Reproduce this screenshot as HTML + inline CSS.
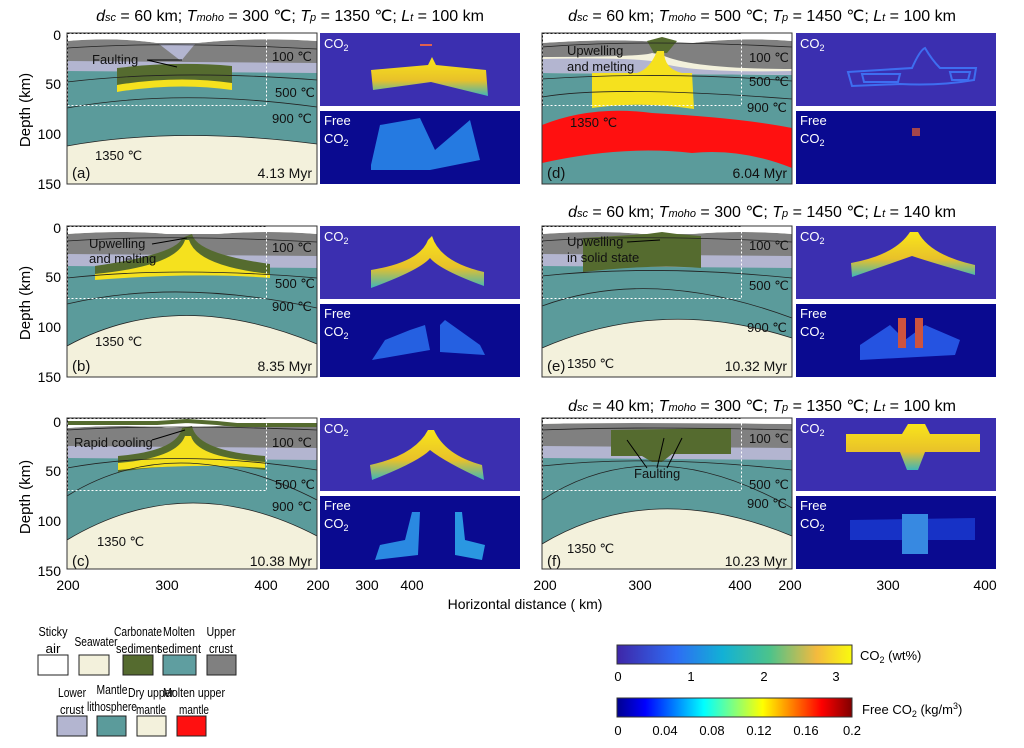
<!DOCTYPE html>
<html><head><meta charset="utf-8"><style>
body{margin:0;background:#fff;}
svg{display:block;font-family:"Liberation Sans",sans-serif;}
</style></head><body>
<svg width="1024" height="748" viewBox="0 0 1024 748" xmlns="http://www.w3.org/2000/svg">
<defs>
<linearGradient id="par" x1="0" x2="1"><stop offset="0" stop-color="#3e26a8"/><stop offset=".25" stop-color="#2e6cf4"/><stop offset=".45" stop-color="#12b1d5"/><stop offset=".65" stop-color="#4cc38b"/><stop offset=".85" stop-color="#f4ba3e"/><stop offset="1" stop-color="#f9fb0e"/></linearGradient>
<linearGradient id="jet" x1="0" x2="1"><stop offset="0" stop-color="#00008f"/><stop offset=".12" stop-color="#0000ff"/><stop offset=".37" stop-color="#00ffff"/><stop offset=".62" stop-color="#ffff00"/><stop offset=".87" stop-color="#ff0000"/><stop offset="1" stop-color="#800000"/></linearGradient>
<linearGradient id="yg" x1="0" y1="0" x2="0" y2="1"><stop offset="0" stop-color="#f9e51a"/><stop offset=".6" stop-color="#e8c12a"/><stop offset="1" stop-color="#3fb6b8"/></linearGradient>
</defs>
<g font-size="16" text-anchor="middle">
<text x="290" y="21"><tspan font-style="italic">d</tspan><tspan font-size="11" font-style="italic">sc</tspan> = 60 km; <tspan font-style="italic">T</tspan><tspan font-size="11" font-style="italic">moho</tspan> = 300 ℃; <tspan font-style="italic">T</tspan><tspan font-size="11" font-style="italic">p</tspan> = 1350 ℃; <tspan font-style="italic">L</tspan><tspan font-size="11" font-style="italic">t</tspan> = 100 km</text>
<text x="762" y="21"><tspan font-style="italic">d</tspan><tspan font-size="11" font-style="italic">sc</tspan> = 60 km; <tspan font-style="italic">T</tspan><tspan font-size="11" font-style="italic">moho</tspan> = 500 ℃; <tspan font-style="italic">T</tspan><tspan font-size="11" font-style="italic">p</tspan> = 1450 ℃; <tspan font-style="italic">L</tspan><tspan font-size="11" font-style="italic">t</tspan> = 100 km</text>
<text x="762" y="217"><tspan font-style="italic">d</tspan><tspan font-size="11" font-style="italic">sc</tspan> = 60 km; <tspan font-style="italic">T</tspan><tspan font-size="11" font-style="italic">moho</tspan> = 300 ℃; <tspan font-style="italic">T</tspan><tspan font-size="11" font-style="italic">p</tspan> = 1450 ℃; <tspan font-style="italic">L</tspan><tspan font-size="11" font-style="italic">t</tspan> = 140 km</text>
<text x="762" y="411"><tspan font-style="italic">d</tspan><tspan font-size="11" font-style="italic">sc</tspan> = 40 km; <tspan font-style="italic">T</tspan><tspan font-size="11" font-style="italic">moho</tspan> = 300 ℃; <tspan font-style="italic">T</tspan><tspan font-size="11" font-style="italic">p</tspan> = 1350 ℃; <tspan font-style="italic">L</tspan><tspan font-size="11" font-style="italic">t</tspan> = 100 km</text>
</g>
<g font-size="14" text-anchor="end">
<text x="61" y="40">0</text><text x="61" y="89">50</text><text x="61" y="139">100</text><text x="61" y="189">150</text>
<text x="61" y="233">0</text><text x="61" y="282">50</text><text x="61" y="332">100</text><text x="61" y="382">150</text>
<text x="61" y="427">0</text><text x="61" y="476">50</text><text x="61" y="526">100</text><text x="61" y="576">150</text>
</g>
<g font-size="15" text-anchor="middle">
<text transform="translate(30,110) rotate(-90)">Depth (km)</text>
<text transform="translate(30,303) rotate(-90)">Depth (km)</text>
<text transform="translate(30,497) rotate(-90)">Depth (km)</text>
</g>
<g font-size="14" text-anchor="middle">
<text x="68" y="590">200</text><text x="167" y="590">300</text><text x="266" y="590">400</text>
<text x="318" y="590">200</text><text x="367" y="590">300</text><text x="412" y="590">400</text>
<text x="545" y="590">200</text><text x="640" y="590">300</text><text x="740" y="590">400</text>
<text x="790" y="590">200</text><text x="888" y="590">300</text><text x="985" y="590">400</text>
<text x="525" y="609">Horizontal distance ( km)</text>
</g>

<!-- Panel a -->
<g transform="translate(67,33)">
<rect width="250" height="151" fill="#f3f1dc"/>
<path d="M0,38 L250,38 L250,111 Q110,93 0,113 Z" fill="#5b9b9b"/>
<path d="M0,26 L250,28 L250,40 L0,38 Z" fill="#b3b5d0"/>
<path d="M0,8 Q50,4 90,10 L130,10 Q190,4 250,8 L250,30 L0,28 Z" fill="#808080"/>
<path d="M92,11 L128,11 L114,28 Z" fill="#b3b5d0"/>
<path d="M0,0 H250 V8 Q190,4 130,10 L90,10 Q50,4 0,8 Z" fill="#fff"/>
<path d="M50,35 Q110,28 165,33 L165,52 Q110,44 50,55 Z" fill="#556b2f"/>
<path d="M50,52 Q110,42 165,50 L165,57 Q110,49 50,59 Z" fill="#f5e11e"/>
<g fill="none" stroke="#222" stroke-width="0.8"><path d="M0,15 Q100,8 250,16"/><path d="M0,49 Q110,36 250,47"/><path d="M0,75 Q110,55 250,74"/><path d="M0,113 Q110,93 250,111"/></g>
<rect x="0.5" y="0.5" width="199" height="72" fill="none" stroke="#fff" stroke-dasharray="2,2"/>
<path d="M0.5,72.5 V0.5 H199" fill="none" stroke="#000" stroke-dasharray="2,2"/>
<g font-size="13" fill="#111"><text x="205" y="28">100 ℃</text><text x="208" y="64">500 ℃</text><text x="205" y="90">900 ℃</text><text x="28" y="127">1350 ℃</text>
<text x="25" y="31">Faulting</text><text x="5" y="145" font-size="15">(a)</text><text x="245" y="145" text-anchor="end" font-size="14">4.13 Myr</text></g>
<path d="M80,27 L115,27 M80,27 L110,34" stroke="#000" fill="none"/>
<rect width="250" height="151" fill="none" stroke="#333"/>
</g>
<!-- Panel b -->
<g transform="translate(67,226)">
<rect width="250" height="151" fill="#f3f1dc"/>
<path d="M0,38 L250,40 L250,118 Q110,60 0,120 Z" fill="#5b9b9b"/>
<path d="M0,26 L250,28 L250,42 L0,40 Z" fill="#b3b5d0"/>
<path d="M0,8 Q60,4 100,8 L150,8 Q200,4 250,8 L250,30 L0,28 Z" fill="#808080"/>
<path d="M0,0 H250 V8 Q200,4 150,8 L100,8 Q60,4 0,8 Z" fill="#fff"/>
<path d="M28,40 Q110,28 115,12 L125,8 Q130,28 203,38 L203,52 Q130,42 28,54 Z" fill="#556b2f"/>
<path d="M28,48 Q110,40 118,14 L122,14 Q130,40 203,48 L203,52 Q130,46 28,54 Z" fill="#f5e11e"/>
<g fill="none" stroke="#222" stroke-width="0.8"><path d="M0,15 Q100,8 250,16"/><path d="M0,52 Q110,40 250,52"/><path d="M0,78 Q110,52 250,82"/><path d="M0,120 Q110,60 250,118"/></g>
<rect x="0.5" y="0.5" width="199" height="72" fill="none" stroke="#fff" stroke-dasharray="2,2"/>
<path d="M0.5,72.5 V0.5 H199" fill="none" stroke="#000" stroke-dasharray="2,2"/>
<g font-size="13" fill="#111"><text x="205" y="26">100 ℃</text><text x="208" y="62">500 ℃</text><text x="205" y="85">900 ℃</text><text x="28" y="120">1350 ℃</text>
<text x="22" y="22">Upwelling</text><text x="22" y="37">and melting</text><text x="5" y="145" font-size="15">(b)</text><text x="245" y="145" text-anchor="end" font-size="14">8.35 Myr</text></g>
<path d="M85,18 L120,12" stroke="#000"/>
<rect width="250" height="151" fill="none" stroke="#333"/>
</g>
<!-- Panel c -->
<g transform="translate(67,418)">
<rect width="250" height="151" fill="#f3f1dc"/>
<path d="M0,38 L250,40 L250,118 Q120,50 0,122 Z" fill="#5b9b9b"/>
<path d="M0,26 L250,28 L250,42 L0,40 Z" fill="#b3b5d0"/>
<path d="M0,10 Q60,6 100,10 L150,8 Q200,4 250,8 L250,30 L0,28 Z" fill="#808080"/>
<path d="M0,0 H250 V8 Q200,4 150,8 L100,10 Q60,6 0,10 Z" fill="#fff"/>
<path d="M0,5 L90,5 L120,3 L150,5 L170,7 L250,7" stroke="#556b2f" stroke-width="4" fill="none"/>
<path d="M51,38 Q110,33 115,10 L125,8 Q130,33 198,38 L198,52 Q130,42 51,54 Z" fill="#556b2f"/>
<path d="M51,45 Q110,40 118,18 L124,18 Q130,40 198,44 L198,50 Q130,45 51,52 Z" fill="#f5e11e"/>
<g fill="none" stroke="#222" stroke-width="0.8"><path d="M0,12 Q100,6 250,12"/><path d="M0,50 Q110,30 250,52"/><path d="M0,78 Q110,10 250,82"/><path d="M0,122 Q120,50 250,118"/></g>
<rect x="0.5" y="0.5" width="199" height="72" fill="none" stroke="#fff" stroke-dasharray="2,2"/>
<path d="M0.5,72.5 V0.5 H199" fill="none" stroke="#000" stroke-dasharray="2,2"/>
<g font-size="13" fill="#111"><text x="205" y="29">100 ℃</text><text x="208" y="71">500 ℃</text><text x="205" y="93">900 ℃</text><text x="30" y="128">1350 ℃</text>
<text x="7" y="29">Rapid cooling</text><text x="5" y="148" font-size="15">(c)</text><text x="245" y="148" text-anchor="end" font-size="14">10.38 Myr</text></g>
<path d="M85,22 L118,12" stroke="#000"/>
<rect width="250" height="151" fill="none" stroke="#333"/>
</g>
<!-- Panel d -->
<g transform="translate(542,33)">
<rect width="250" height="151" fill="#f3f1dc"/>
<path d="M0,40 L250,42 L250,151 L0,151 Z" fill="#5b9b9b"/>
<path d="M0,92 Q50,72 110,80 Q200,85 250,95 L250,135 Q200,115 150,120 Q80,112 0,130 Z" fill="#ff1010"/>
<path d="M0,26 Q100,24 120,30 Q150,40 250,38 L250,42 L0,40 Z" fill="#b3b5d0"/>
<path d="M0,10 Q60,6 100,8 L150,10 Q200,4 250,8 L250,36 Q150,36 120,22 L110,20 Q100,24 0,24 Z" fill="#808080"/>
<path d="M0,0 H250 V8 Q200,4 150,10 L100,8 Q60,6 0,10 Z" fill="#fff"/>
<path d="M105,8 L120,4 L135,8 L125,20 L112,20 Z" fill="#556b2f"/>
<path d="M50,40 L95,40 Q108,36 115,18 L122,18 Q122,36 140,40 L150,40 L152,76 Q100,68 50,75 Z" fill="#f5e11e"/>
<g fill="none" stroke="#222" stroke-width="0.8"><path d="M0,14 Q100,6 250,14"/><path d="M0,46 Q120,38 250,48"/><path d="M0,64 Q70,52 250,66"/></g>
<rect x="0.5" y="0.5" width="199" height="72" fill="none" stroke="#fff" stroke-dasharray="2,2"/>
<path d="M0.5,72.5 V0.5 H199" fill="none" stroke="#000" stroke-dasharray="2,2"/>
<g font-size="13" fill="#111"><text x="207" y="29">100 ℃</text><text x="207" y="53">500 ℃</text><text x="205" y="79">900 ℃</text><text x="28" y="94">1350 ℃</text>
<text x="25" y="22">Upwelling</text><text x="25" y="38">and melting</text><text x="5" y="145" font-size="15">(d)</text><text x="245" y="145" text-anchor="end" font-size="14">6.04 Myr</text></g>
<rect width="250" height="151" fill="none" stroke="#333"/>
</g>
<!-- Panel e -->
<g transform="translate(542,226)">
<rect width="250" height="151" fill="#f3f1dc"/>
<path d="M0,38 L250,40 L250,112 Q120,70 0,122 Z" fill="#5b9b9b"/>
<path d="M0,26 L250,28 L250,42 L0,40 Z" fill="#b3b5d0"/>
<path d="M0,8 Q60,4 100,8 L150,8 Q200,4 250,8 L250,30 L0,28 Z" fill="#808080"/>
<path d="M0,0 H250 V8 Q200,4 150,8 L100,8 Q60,4 0,8 Z" fill="#fff"/>
<path d="M41,12 L105,8 L120,6 L135,8 L159,10 L159,42 Q110,38 41,46 Z" fill="#556b2f"/>
<g fill="none" stroke="#222" stroke-width="0.8"><path d="M0,15 Q100,8 250,16"/><path d="M0,50 Q110,38 250,52"/><path d="M0,80 Q110,40 250,92"/><path d="M0,122 Q120,70 250,112"/></g>
<rect x="0.5" y="0.5" width="199" height="72" fill="none" stroke="#fff" stroke-dasharray="2,2"/>
<path d="M0.5,72.5 V0.5 H199" fill="none" stroke="#000" stroke-dasharray="2,2"/>
<g font-size="13" fill="#111"><text x="207" y="24">100 ℃</text><text x="207" y="64">500 ℃</text><text x="205" y="106">900 ℃</text><text x="25" y="142">1350 ℃</text>
<text x="25" y="20">Upwelling</text><text x="25" y="36">in solid state</text><text x="5" y="145" font-size="15">(e)</text><text x="245" y="145" text-anchor="end" font-size="14">10.32 Myr</text></g>
<path d="M85,16 L118,14" stroke="#000"/>
<rect width="250" height="151" fill="none" stroke="#333"/>
</g>
<!-- Panel f -->
<g transform="translate(542,418)">
<rect width="250" height="151" fill="#f3f1dc"/>
<path d="M0,38 L250,40 L250,118 Q110,60 0,126 Z" fill="#5b9b9b"/>
<path d="M0,26 L250,28 L250,42 L0,40 Z" fill="#b3b5d0"/>
<path d="M0,6 Q60,4 250,6 L250,30 L0,28 Z" fill="#808080"/>
<path d="M0,0 H250 V6 Q60,4 0,6 Z" fill="#fff"/>
<path d="M69,12 L189,10 L189,36 L130,36 L120,44 L110,44 L100,38 L69,38 Z" fill="#556b2f"/>
<g fill="none" stroke="#222" stroke-width="0.8"><path d="M0,12 Q100,8 250,12"/><path d="M0,48 Q110,36 250,52"/><path d="M0,82 Q110,10 250,90"/><path d="M0,126 Q110,60 250,118"/></g>
<rect x="0.5" y="0.5" width="199" height="72" fill="none" stroke="#fff" stroke-dasharray="2,2"/>
<path d="M0.5,72.5 V0.5 H199" fill="none" stroke="#000" stroke-dasharray="2,2"/>
<g font-size="13" fill="#111"><text x="207" y="25">100 ℃</text><text x="207" y="71">500 ℃</text><text x="205" y="90">900 ℃</text><text x="25" y="135">1350 ℃</text>
<text x="92" y="60">Faulting</text><text x="5" y="148" font-size="15">(f)</text><text x="245" y="148" text-anchor="end" font-size="14">10.23 Myr</text></g>
<path d="M105,50 L85,22 M115,50 L122,20 M125,50 L140,20" stroke="#000" fill="none"/>
<rect width="250" height="151" fill="none" stroke="#333"/>
</g>

<g fill="#3b2fb0">
<rect x="320" y="33" width="200" height="73"/><rect x="320" y="226" width="200" height="73"/><rect x="320" y="418" width="200" height="73"/>
<rect x="796" y="33" width="200" height="73"/><rect x="796" y="226" width="200" height="73"/><rect x="796" y="418" width="200" height="73"/>
</g>
<g fill="#0a0a90">
<rect x="320" y="111" width="200" height="73"/><rect x="320" y="304" width="200" height="73"/><rect x="320" y="496" width="200" height="73"/>
<rect x="796" y="111" width="200" height="73"/><rect x="796" y="304" width="200" height="73"/><rect x="796" y="496" width="200" height="73"/>
</g>
<path d="M371,70 L428,65 L432,57 L436,65 L486,70 L488,96 L431,82 L373,90 Z" fill="url(#yg)"/>
<rect x="420" y="44" width="12" height="2" fill="#e06050"/>
<path d="M371,270 Q420,262 428,240 L432,236 Q440,262 484,272 L484,286 Q440,270 430,258 Q420,270 371,288 Z" fill="url(#yg)"/>
<path d="M370,465 Q415,455 428,430 L434,430 Q445,455 482,465 L484,480 Q445,462 430,450 Q418,462 372,480 Z" fill="url(#yg)"/>
<g fill="none" stroke="#3e6ef0" stroke-width="2">
<path d="M848,72 L912,68 Q920,50 925,48 Q932,60 940,68 L976,68 L974,80 Q940,86 900,84 L852,86 Z"/>
<path d="M862,74 L900,74 L898,82 L864,82 Z M950,72 L970,72 L968,80 L952,80 Z"/>
</g>
<path d="M851,263 Q895,255 910,232 L918,232 Q930,255 975,265 L975,275 Q930,262 912,256 Q895,262 852,277 Z" fill="url(#yg)"/>
<path d="M846,434 L902,434 L908,424 L925,424 L930,434 L980,434 L980,452 L925,452 L918,470 L907,470 L900,452 L846,452 Z" fill="url(#yg)"/>
<g opacity="0.85">
<path d="M371,165 L380,125 L420,118 L435,150 L470,120 L480,160 L430,170 L371,170 Z" fill="#2a8ef0"/>
<path d="M385,340 L410,330 L425,325 L430,350 L372,360 Z" fill="#2a70f0"/>
<path d="M440,325 L445,320 L480,345 L485,355 L440,352 Z" fill="#2a70f0"/>
<path d="M380,545 L405,540 L412,512 L420,512 L418,555 L375,560 Z" fill="#30a0f0"/>
<path d="M455,512 L462,512 L465,540 L485,545 L482,560 L455,555 Z" fill="#30b0f0"/>
<path d="M860,345 L890,325 L905,340 L925,325 L960,340 L955,355 L860,360 Z" fill="#2a60f0"/>
<rect x="898" y="318" width="8" height="30" fill="#f06030"/><rect x="915" y="318" width="8" height="30" fill="#f06030"/>
<path d="M850,520 L975,518 L975,540 L850,540 Z" fill="#1a3ad0"/>
<rect x="902" y="514" width="26" height="40" fill="#40a0f0"/>
<rect x="912" y="128" width="8" height="8" fill="#c05040"/>
</g>
<g fill="#fff" font-size="13">
<text x="324" y="48">CO<tspan font-size="9" dy="3">2</tspan></text><text x="324" y="241">CO<tspan font-size="9" dy="3">2</tspan></text><text x="324" y="433">CO<tspan font-size="9" dy="3">2</tspan></text>
<text x="800" y="48">CO<tspan font-size="9" dy="3">2</tspan></text><text x="800" y="241">CO<tspan font-size="9" dy="3">2</tspan></text><text x="800" y="433">CO<tspan font-size="9" dy="3">2</tspan></text>
<text x="324" y="125">Free</text><text x="324" y="143">CO<tspan font-size="9" dy="3">2</tspan></text>
<text x="324" y="318">Free</text><text x="324" y="336">CO<tspan font-size="9" dy="3">2</tspan></text>
<text x="324" y="510">Free</text><text x="324" y="528">CO<tspan font-size="9" dy="3">2</tspan></text>
<text x="800" y="125">Free</text><text x="800" y="143">CO<tspan font-size="9" dy="3">2</tspan></text>
<text x="800" y="318">Free</text><text x="800" y="336">CO<tspan font-size="9" dy="3">2</tspan></text>
<text x="800" y="510">Free</text><text x="800" y="528">CO<tspan font-size="9" dy="3">2</tspan></text>
</g>

<g stroke="#222" stroke-width="1">
<rect x="38" y="655" width="30" height="20" fill="#fff"/>
<rect x="79" y="655" width="30" height="20" fill="#f3f1dc"/>
<rect x="123" y="655" width="30" height="20" fill="#556b2f"/>
<rect x="163" y="655" width="33" height="20" fill="#5f9ea0"/>
<rect x="207" y="655" width="29" height="20" fill="#808080"/>
<rect x="57" y="716" width="30" height="20" fill="#b3b5d0"/>
<rect x="97" y="716" width="29" height="20" fill="#5b9b9b"/>
<rect x="137" y="716" width="29" height="20" fill="#f3f1dc"/>
<rect x="177" y="716" width="29" height="20" fill="#ff1010"/>
</g>
<g font-size="13" text-anchor="middle" lengthAdjust="spacingAndGlyphs">
<text x="53" y="636" textLength="29" lengthAdjust="spacingAndGlyphs">Sticky</text><text x="53" y="653" textLength="15" lengthAdjust="spacingAndGlyphs">air</text>
<text x="96" y="646" textLength="43" lengthAdjust="spacingAndGlyphs">Seawater</text>
<text x="138" y="636" textLength="48" lengthAdjust="spacingAndGlyphs">Carbonate</text><text x="138" y="653" textLength="44" lengthAdjust="spacingAndGlyphs">sediment</text>
<text x="179" y="636" textLength="32" lengthAdjust="spacingAndGlyphs">Molten</text><text x="179" y="653" textLength="44" lengthAdjust="spacingAndGlyphs">sediment</text>
<text x="221" y="636" textLength="29" lengthAdjust="spacingAndGlyphs">Upper</text><text x="221" y="653" textLength="24" lengthAdjust="spacingAndGlyphs">crust</text>
<text x="72" y="697" textLength="28" lengthAdjust="spacingAndGlyphs">Lower</text><text x="72" y="714" textLength="24" lengthAdjust="spacingAndGlyphs">crust</text>
<text x="112" y="694" textLength="31" lengthAdjust="spacingAndGlyphs">Mantle</text><text x="112" y="711" textLength="50" lengthAdjust="spacingAndGlyphs">lithosphere</text>
<text x="151" y="697" textLength="46" lengthAdjust="spacingAndGlyphs">Dry upper</text><text x="151" y="714" textLength="30" lengthAdjust="spacingAndGlyphs">mantle</text>
<text x="194" y="697" textLength="62" lengthAdjust="spacingAndGlyphs">Molten upper</text><text x="194" y="714" textLength="30" lengthAdjust="spacingAndGlyphs">mantle</text>
</g>
<rect x="617" y="645" width="235" height="19" fill="url(#par)" stroke="#333"/>
<rect x="617" y="698" width="235" height="19" fill="url(#jet)" stroke="#333"/>
<g font-size="13" text-anchor="middle">
<text x="618" y="681">0</text><text x="691" y="681">1</text><text x="764" y="681">2</text><text x="836" y="681">3</text>
<text x="618" y="735">0</text><text x="665" y="735">0.04</text><text x="712" y="735">0.08</text><text x="759" y="735">0.12</text><text x="806" y="735">0.16</text><text x="852" y="735">0.2</text>
</g>
<g font-size="13">
<text x="860" y="660">CO<tspan font-size="9" dy="3">2</tspan><tspan dy="-3"> (wt%)</tspan></text>
<text x="862" y="714">Free CO<tspan font-size="9" dy="3">2</tspan><tspan dy="-3"> (kg/m</tspan><tspan font-size="9" dy="-5">3</tspan><tspan dy="5">)</tspan></text>
</g>
</svg>
</body></html>
